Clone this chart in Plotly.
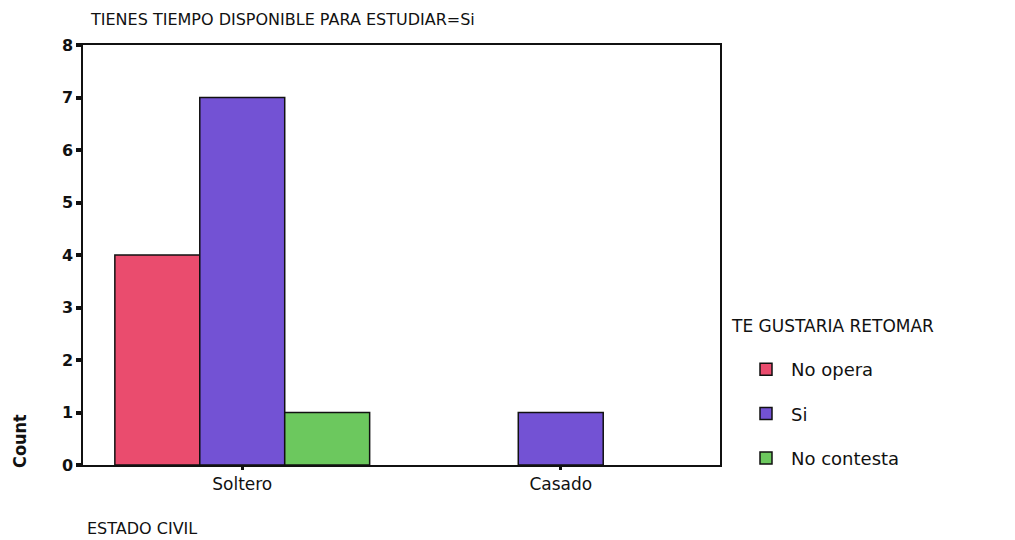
import plotly.graph_objects as go

categories = ["Soltero", "Casado"]
series_names = ["No opera", "Si", "No contesta"]
no_opera = [4, None]
si = [7, 1]
no_contesta = [1, None]
colors = ["#EA4C6E", "#7352D4", "#6CC85E"]
y_ticks = [0, 1, 2, 3, 4, 5, 6, 7, 8]

FONT = "DejaVu Sans, Arial, sans-serif"
W, H = 1007, 532
L, T, R, B = 75, 37, 295, 75
PW, PH = W - L - R, H - T - B

fig = go.Figure()
for name, vals, col in zip(series_names, [no_opera, si, no_contesta], colors):
    fig.add_trace(go.Bar(
        x=categories, y=vals, name=name, legendgroup=name,
        marker=dict(color=col, line=dict(color="#111111", width=1.5)),
    ))

fig.update_layout(
    width=W, height=H,
    paper_bgcolor="white", plot_bgcolor="white",
    margin=dict(l=L, r=R, t=T, b=B),
    barmode="group", bargap=0.2, bargroupgap=0,
    font=dict(family=FONT, color="#111111"),
    showlegend=True,
    legend=dict(
        x=(733 - L) / PW, xanchor="left", y=(H - B - 343) / PH, yanchor="top",
        font=dict(size=18, family=FONT),
        tracegroupgap=18, traceorder="grouped",
        bgcolor="rgba(0,0,0,0)", itemwidth=40,
    ),
)
fig.update_xaxes(
    showline=True, linecolor="#111111", linewidth=1.5, mirror=True,
    ticks="outside", ticklen=3, tickwidth=3, tickcolor="#111111",
    tickfont=dict(size=17, family=FONT), showgrid=False,
)
fig.update_yaxes(
    range=[0, 8], tickvals=y_ticks,
    showline=True, linecolor="#111111", linewidth=1.5, mirror=True,
    ticks="outside", ticklen=5, tickwidth=4, tickcolor="#111111",
    tickfont=dict(size=16, family=FONT, weight="bold"), showgrid=False, zeroline=False,
)

def px_x(x):
    return (x - 8 - L) / PW

def px_y(y):
    return (H - B - (y - 8)) / PH

fig.add_annotation(text="TIENES TIEMPO DISPONIBLE PARA ESTUDIAR=Si", xref="paper", yref="paper",
                   x=px_x(88), y=px_y(19), xanchor="left", yanchor="middle",
                   showarrow=False, font=dict(size=16, family=FONT))
fig.add_annotation(text="TE GUSTARIA RETOMAR", xref="paper", yref="paper",
                   x=px_x(729), y=px_y(326), xanchor="left", yanchor="middle",
                   showarrow=False, font=dict(size=17, family=FONT))
fig.add_annotation(text="ESTADO CIVIL", xref="paper", yref="paper",
                   x=px_x(85), y=px_y(528), xanchor="left", yanchor="middle",
                   showarrow=False, font=dict(size=16, family=FONT))
fig.add_annotation(text="<b>Count</b>", xref="paper", yref="paper", textangle=-90,
                   x=px_x(19), y=px_y(441), xanchor="center", yanchor="middle",
                   showarrow=False, font=dict(size=18, family="DejaVu Sans Condensed, DejaVu Sans, sans-serif"))

fig.write_html("out.html")
